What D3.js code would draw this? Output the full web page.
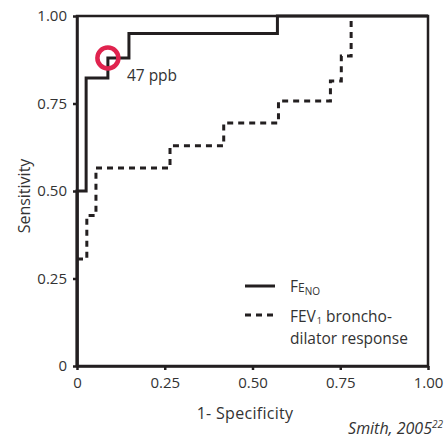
<!DOCTYPE html>
<html>
<head>
<meta charset="utf-8">
<script src="https://cdn.jsdelivr.net/npm/d3@7"></script>
<style>
  body { margin: 0; background: #fff; }
  text { font-family: "Open Sans", "DejaVu Sans", sans-serif; fill: #333; }
</style>
</head>
<body>
<div id="chart-area"></div>
<script>
// ROC curves
var fenoX = [0, 0, 0.026, 0.026, 0.088, 0.088, 0.148, 0.148, 0.571, 0.571, 1.0];
var fenoY = [0, 0.5, 0.5, 0.823, 0.823, 0.88, 0.88, 0.95, 0.95, 1.0, 1.0];

var fevX = [0, 0.028, 0.028, 0.054, 0.054, 0.265, 0.265, 0.418, 0.418, 0.574, 0.574, 0.722, 0.722, 0.753, 0.753, 0.781, 0.781];
var fevY = [0.306, 0.306, 0.43, 0.43, 0.566, 0.566, 0.629, 0.629, 0.694, 0.694, 0.757, 0.757, 0.814, 0.814, 0.886, 0.886, 1.0];

var cutoff = { x: 0.088, y: 0.88, label: "47 ppb" };
var tickValues = [0, 0.25, 0.5, 0.75, 1.0];
var tickLabels = ["0", "0.25", "0.50", "0.75", "1.00"];

var margin = { top: 16, right: 17, bottom: 72, left: 77 };
var width = 445 - margin.left - margin.right;
var height = 438 - margin.top - margin.bottom;

var svg = d3.select("#chart-area").append("svg")
    .attr("width", 445)
    .attr("height", 438);

var g = svg.append("g")
    .attr("transform", "translate(" + margin.left + ", " + margin.top + ")");

var x = d3.scaleLinear().domain([0, 1]).range([0, width]);
var y = d3.scaleLinear().domain([0, 1]).range([height, 0]);

// frame
g.append("rect")
    .attr("x", 0).attr("y", 0)
    .attr("width", width).attr("height", height)
    .attr("fill", "none")
    .attr("stroke", "#231f20")
    .attr("stroke-width", 2.5);

var xAxis = d3.axisBottom(x)
    .tickValues(tickValues)
    .tickFormat((d, i) => tickLabels[i])
    .tickSize(4).tickSizeOuter(0).tickPadding(7);
var yAxis = d3.axisLeft(y)
    .tickValues(tickValues)
    .tickFormat((d, i) => tickLabels[i])
    .tickSize(4).tickSizeOuter(0).tickPadding(6);

var xg = g.append("g").attr("transform", "translate(0," + height + ")").call(xAxis);
var yg = g.append("g").call(yAxis);
[xg, yg].forEach(function(a) {
    a.select(".domain").attr("stroke", "#231f20").attr("stroke-width", 2.5);
    a.selectAll(".tick line").attr("stroke", "#231f20").attr("stroke-width", 2.5);
    a.selectAll(".tick text").attr("font-size", "15px").attr("fill", "#333");
});

var line = d3.line().x((d) => x(d[0])).y((d) => y(d[1]));

g.append("path")
    .datum(fevX.map((v, i) => [v, fevY[i]]))
    .attr("d", line)
    .attr("fill", "none")
    .attr("stroke", "#231f20")
    .attr("stroke-width", 3)
    .attr("stroke-dasharray", "6,5");

g.append("path")
    .datum(fenoX.map((v, i) => [v, fenoY[i]]))
    .attr("d", line)
    .attr("fill", "none")
    .attr("stroke", "#231f20")
    .attr("stroke-width", 3);

g.append("circle")
    .attr("cx", x(cutoff.x))
    .attr("cy", y(cutoff.y))
    .attr("r", 10.5)
    .attr("fill", "none")
    .attr("stroke", "#e0234e")
    .attr("stroke-width", 4.5);

g.append("text")
    .attr("x", x(cutoff.x) + 19)
    .attr("y", y(cutoff.y) + 23)
    .attr("font-size", "15.5px")
    .text(cutoff.label);

// legend
var lg = g.append("g").attr("transform", "translate(168, 270)");
lg.append("line").attr("x1", 0).attr("x2", 30).attr("y1", 0).attr("y2", 0)
    .attr("stroke", "#231f20").attr("stroke-width", 3);
lg.append("line").attr("x1", 0).attr("x2", 30).attr("y1", 29).attr("y2", 29)
    .attr("stroke", "#231f20").attr("stroke-width", 3).attr("stroke-dasharray", "6,5");

var t1 = lg.append("text").attr("x", 45).attr("y", 6).attr("font-size", "15.5px");
t1.append("tspan").text("F");
t1.append("tspan").attr("font-size", "12px").text("E");
t1.append("tspan").attr("font-size", "10px").attr("dy", 3).text("NO");

var t2 = lg.append("text").attr("x", 45).attr("y", 36).attr("font-size", "15.5px");
t2.append("tspan").text("FEV");
t2.append("tspan").attr("font-size", "9px").attr("dx", 1).attr("dy", 2).text("1");
t2.append("tspan").attr("dy", -2).text(" broncho-");

lg.append("text").attr("x", 45).attr("y", 58).attr("font-size", "15.5px").text("dilator response");

// axis titles
g.append("text")
    .attr("x", 168)
    .attr("y", height + 53)
    .attr("font-size", "16px")
    .attr("letter-spacing", "0.3px")
    .attr("text-anchor", "middle")
    .text("1- Specificity");

g.append("text")
    .attr("x", -(height / 2) - 5)
    .attr("y", -47)
    .attr("font-size", "16px")
    .attr("text-anchor", "middle")
    .attr("transform", "rotate(-90)")
    .text("Sensitivity");

var src = svg.append("text")
    .attr("x", 443)
    .attr("y", 434)
    .attr("font-size", "16px")
    .attr("font-style", "italic")
    .attr("text-anchor", "end");
src.append("tspan").text("Smith, 2005");
src.append("tspan").attr("font-size", "10px").attr("dy", -6).text("22");
</script>
</body>
</html>
